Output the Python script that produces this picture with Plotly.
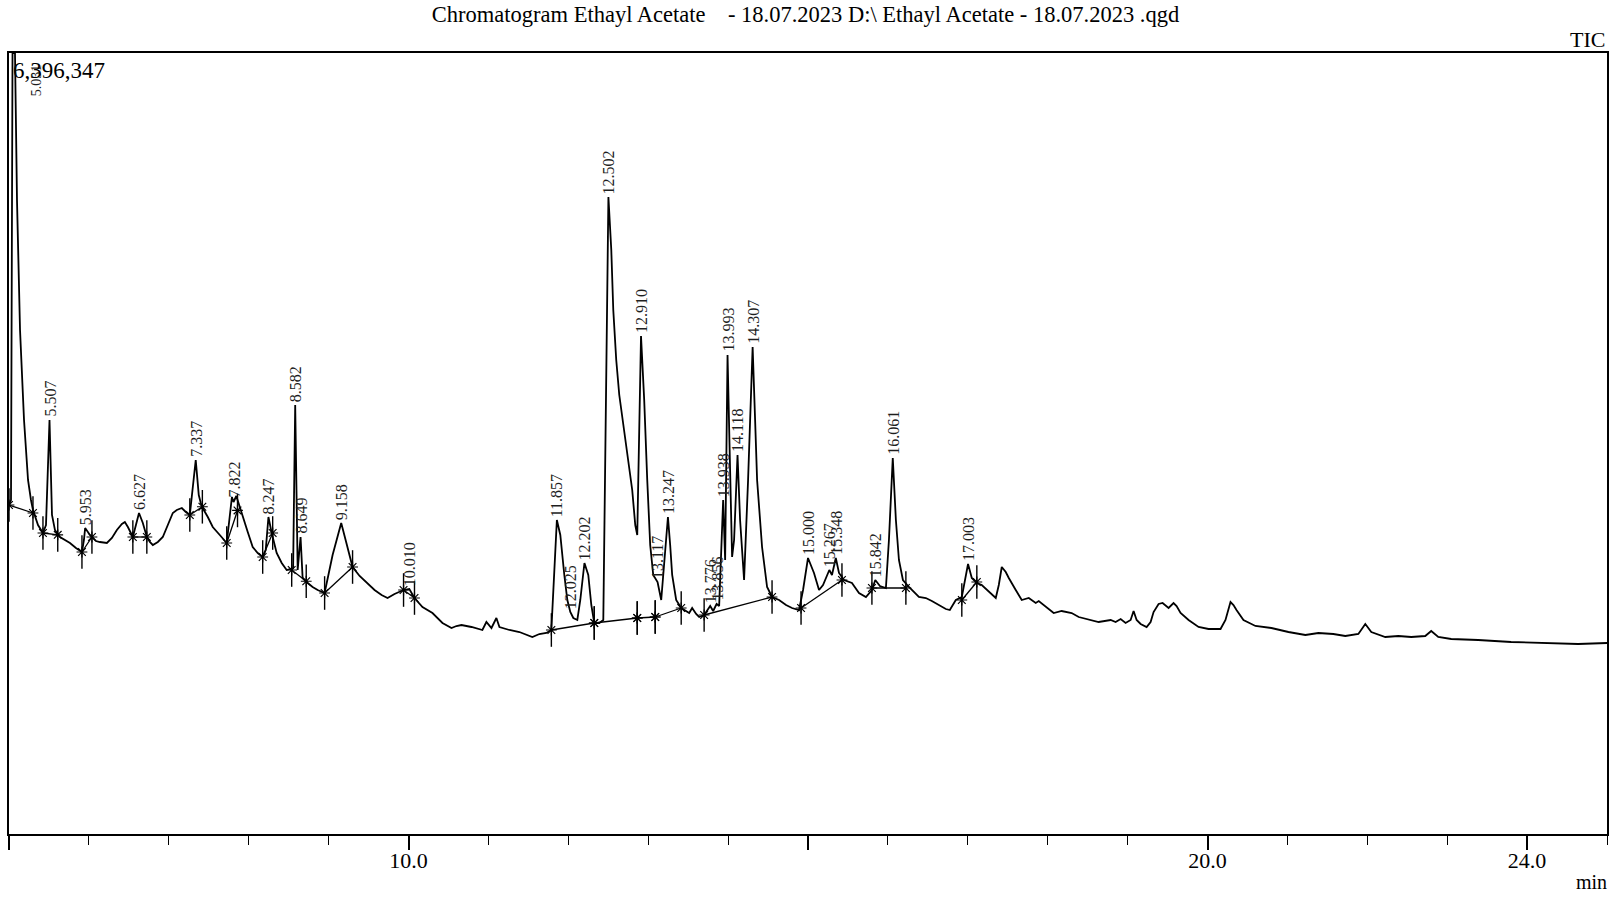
import plotly.graph_objects as go
import numpy as np

# ---------------- data ----------------
# retention time (min)
rt = [5.000, 5.025, 5.044, 5.075, 5.100, 5.138, 5.188, 5.238, 5.275, 5.300,
      5.363, 5.425, 5.463, 5.507, 5.538, 5.575, 5.638, 5.700, 5.763, 5.838,
      5.913, 5.938, 5.953, 6.013, 6.038, 6.088, 6.138, 6.225, 6.288, 6.350,
      6.413, 6.450, 6.488, 6.550, 6.627, 6.650, 6.675, 6.725, 6.763, 6.800,
      6.863, 6.925, 6.988, 7.050, 7.100, 7.163, 7.213, 7.263, 7.337, 7.375,
      7.400, 7.438, 7.488, 7.550, 7.638, 7.725, 7.790, 7.810, 7.845, 7.925,
      7.988, 8.050, 8.113, 8.175, 8.213, 8.247, 8.288, 8.350, 8.413, 8.475,
      8.556, 8.582, 8.613, 8.649, 8.675, 8.738, 8.800, 8.863, 8.950, 9.050,
      9.158, 9.213, 9.300, 9.388, 9.475, 9.575, 9.663, 9.738, 9.825, 9.888,
      9.938, 10.010, 10.075, 10.175, 10.300, 10.425, 10.538, 10.600, 10.663, 10.788,
      10.925, 10.975, 11.038, 11.100, 11.138, 11.263, 11.388, 11.550, 11.638, 11.725,
      11.788, 11.857, 11.900, 11.950, 11.988, 12.025, 12.063, 12.113, 12.150, 12.202,
      12.250, 12.288, 12.325, 12.388, 12.438, 12.502, 12.538, 12.563, 12.600, 12.638,
      12.688, 12.738, 12.800, 12.838, 12.863, 12.910, 12.950, 12.988, 13.025, 13.063,
      13.117, 13.163, 13.247, 13.275, 13.300, 13.350, 13.413, 13.513, 13.550, 13.600,
      13.638, 13.700, 13.776, 13.813, 13.856, 13.888, 13.938, 13.963, 13.993, 14.025,
      14.050, 14.075, 14.118, 14.150, 14.200, 14.250, 14.307, 14.338, 14.363, 14.425,
      14.488, 14.550, 14.638, 14.725, 14.800, 14.888, 14.938, 15.000, 15.075, 15.138,
      15.188, 15.267, 15.300, 15.348, 15.388, 15.450, 15.550, 15.638, 15.725, 15.800,
      15.842, 15.900, 15.975, 16.013, 16.061, 16.100, 16.138, 16.188, 16.263, 16.388,
      16.475, 16.550, 16.638, 16.725, 16.775, 16.850, 16.925, 16.963, 17.003, 17.050,
      17.113, 17.175, 17.263, 17.350, 17.388, 17.425, 17.475, 17.513, 17.600, 17.675,
      17.763, 17.850, 17.888, 17.975, 18.075, 18.175, 18.300, 18.388, 18.475, 18.638,
      18.788, 18.850, 18.913, 18.975, 19.038, 19.075, 19.113, 19.163, 19.238, 19.288,
      19.325, 19.388, 19.438, 19.513, 19.575, 19.613, 19.663, 19.763, 19.888, 20.013,
      20.163, 20.225, 20.288, 20.325, 20.363, 20.450, 20.600, 20.700, 20.800, 21.013,
      21.225, 21.388, 21.575, 21.725, 21.888, 21.975, 22.050, 22.225, 22.388, 22.550,
      22.725, 22.800, 22.888, 23.050, 23.388, 23.800, 24.225, 24.638, 25.000]

# TIC intensity (counts)
tic = [2694510, 2735460, 6396347, 6396347, 5192460, 4127760, 3390660, 2899260, 2735460, 2653560,
       2530710, 2465190, 2530710, 3390660, 2612610, 2489760, 2432430, 2407860, 2383290, 2342340,
       2309580, 2407860, 2506140, 2448810, 2432430, 2399670, 2391480, 2383290, 2424240, 2489760,
       2538900, 2555280, 2514330, 2432430, 2628990, 2588040, 2547090, 2432430, 2391480, 2366910,
       2391480, 2432430, 2530710, 2628990, 2653560, 2669940, 2637180, 2612610, 3063060, 2776410,
       2710890, 2653560, 2596230, 2514330, 2448810, 2383290, 2760030, 2719080, 2768220, 2596230,
       2473380, 2350530, 2301390, 2268630, 2325960, 2596230, 2465190, 2301390, 2219490, 2162160,
       2178540, 3513510, 2162160, 2432430, 2096640, 2055690, 2022930, 1998360, 1973790, 2285010,
       2547090, 2407860, 2186730, 2113020, 2055690, 1998360, 1957410, 1932840, 1965600, 1981980,
       1998360, 2006550, 1932840, 1859130, 1809990, 1728090, 1687140, 1703520, 1711710, 1695330,
       1670760, 1736280, 1687140, 1769040, 1695330, 1670760, 1654380, 1613430, 1638000, 1646190,
       1670760, 2571660, 2448810, 2121210, 1916460, 1818180, 1769040, 1752660, 1916460, 2219490,
       2121210, 1875510, 1728090, 1728090, 1752660, 5217030, 4782960, 4291560, 3882060, 3595410,
       3349710, 3104010, 2817360, 2530710, 2448810, 4078620, 3554460, 2899260, 2366910, 2121210,
       2063880, 1916460, 2596230, 2366910, 2121210, 1916460, 1850940, 1809990, 1850940, 1801800,
       1777230, 1793610, 1867320, 1826370, 1883700, 1867320, 2735460, 2244060, 3923010, 2981160,
       2268630, 2407860, 3104010, 2571660, 2080260, 2899260, 3988530, 3390660, 2899260, 2350530,
       2022930, 1941030, 1916460, 1875510, 1850940, 1834560, 1998360, 2260440, 2137590, 1998360,
       2039310, 2162160, 2121210, 2260440, 2137590, 2080260, 2055690, 1973790, 1941030, 1998360,
       2080260, 2031120, 2014740, 2407860, 3079440, 2571660, 2244060, 2080260, 2022930, 1941030,
       1932840, 1908270, 1875510, 1842750, 1834560, 1916460, 1941030, 2080260, 2211300, 2096640,
       2055690, 2039310, 1981980, 1932840, 2039310, 2186730, 2145780, 2096640, 1998360, 1916460,
       1932840, 1891890, 1908270, 1859130, 1809990, 1826370, 1809990, 1777230, 1760850, 1736280,
       1752660, 1736280, 1760850, 1728090, 1752660, 1826370, 1752660, 1719900, 1695330, 1736280,
       1818180, 1883700, 1891890, 1850940, 1891890, 1867320, 1809990, 1752660, 1695330, 1678950,
       1678950, 1752660, 1900080, 1875510, 1834560, 1752660, 1703520, 1695330, 1687140, 1654380,
       1629810, 1646190, 1638000, 1621620, 1638000, 1719900, 1654380, 1613430, 1621620, 1613430,
       1621620, 1662570, 1613430, 1597050, 1588860, 1572480, 1564290, 1556100, 1564290]

# labelled peaks (retention time, label)
peak_rt = [5.507, 5.953, 6.627, 7.337, 7.822, 8.247, 8.582, 8.649, 9.158, 10.010,
           11.857, 12.025, 12.202, 12.502, 12.910, 13.117, 13.247, 13.776, 13.856, 13.938,
           13.993, 14.118, 14.307, 15.000, 15.267, 15.348, 15.842, 16.061, 17.003]
peak_labels = ["5.507", "5.953", "6.627", "7.337", "7.822", "8.247", "8.582", "8.649", "9.158", "10.010",
               "11.857", "12.025", "12.202", "12.502", "12.910", "13.117", "13.247", "13.776", "13.856", "13.938",
               "13.993", "14.118", "14.307", "15.000", "15.267", "15.348", "15.842", "16.061", "17.003"]
first_peak_label = "5.031"
max_intensity = 6396347

# integration baselines: start / end points
bl_start_rt = [5.000, 5.425, 5.913, 6.550, 7.263, 7.725, 8.175, 8.538, 8.950, 9.938,
               11.788, 12.325, 12.863, 13.088, 13.700, 14.913, 15.800, 16.925]
bl_start_int = [2694510, 2465190, 2309580, 2432430, 2612610, 2383290, 2268630, 2162160, 1973790, 1998360,
                1670760, 1728090, 1769040, 1777230, 1793610, 1850940, 2014740, 1916460]
bl_end_rt = [5.300, 5.610, 6.038, 6.725, 7.420, 7.860, 8.300, 8.720, 9.300, 10.075,
             12.325, 12.863, 13.088, 13.413, 14.550, 15.425, 16.225, 17.113]
bl_end_int = [2628990, 2450000, 2432430, 2432430, 2680000, 2650000, 2465190, 2070000, 2186730, 1932840,
              1728090, 1769040, 1777230, 1850940, 1941030, 2080260, 2014740, 2063880]

x_tick_vals = [5, 10, 15, 20, 24]
x_tick_text = ["", "10.0", "", "20.0", "24.0"]

title_text = "Chromatogram Ethayl Acetate&nbsp;&nbsp;&nbsp;&nbsp;- 18.07.2023 D:\\ Ethayl Acetate - 18.07.2023 .qgd"

# ---------------- figure ----------------
FONT = "Liberation Serif, Times New Roman, serif"
fig = go.Figure()

fig.add_trace(go.Scatter(x=rt, y=tic, mode="lines",
                         line=dict(color="black", width=1.8), hoverinfo="x+y",
                         showlegend=False, cliponaxis=True))

# baselines
bx, by = [], []
for a, b, c, d in zip(bl_start_rt, bl_start_int, bl_end_rt, bl_end_int):
    bx += [a, c, None]
    by += [b, d, None]
fig.add_trace(go.Scatter(x=bx, y=by, mode="lines", line=dict(color="black", width=1.3),
                         showlegend=False, hoverinfo="skip"))

mx = list(bl_start_rt) + list(bl_end_rt)
my = list(bl_start_int) + list(bl_end_int)
fig.add_trace(go.Scatter(x=mx, y=my, mode="markers",
                         marker=dict(symbol="line-ns-open", size=24, color="black",
                                     line=dict(color="black", width=1.4)),
                         showlegend=False, hoverinfo="skip"))
fig.add_trace(go.Scatter(x=mx, y=my, mode="markers",
                         marker=dict(symbol="asterisk-open", size=9, color="black",
                                     line=dict(color="black", width=1.2)),
                         showlegend=False, hoverinfo="skip"))

# peak labels
peak_y = np.interp(peak_rt, rt, tic)
for t, yv, lab in zip(peak_rt, peak_y, peak_labels):
    fig.add_annotation(x=t, y=yv, text=lab, showarrow=False, textangle=-90,
                       xanchor="center", yanchor="bottom", yshift=1,
                       font=dict(family=FONT, size=16, color="#1e1e1e"))

fig.add_annotation(x=5.34, y=max_intensity, text=first_peak_label, showarrow=False,
                   textangle=-90, xanchor="center", yanchor="top", yshift=-9,
                   font=dict(family=FONT, size=14, color="#1e1e1e"))
fig.add_annotation(xref="paper", yref="paper", x=0.001, y=1, text=f"{max_intensity:,}",
                   showarrow=False, xanchor="left", yanchor="top", yshift=-3,
                   font=dict(family=FONT, size=23, color="black"))
fig.add_annotation(xref="paper", yref="paper", x=1, y=1, text="TIC", showarrow=False,
                   xanchor="right", yanchor="bottom", yshift=-1,
                   font=dict(family=FONT, size=22, color="black"))
fig.add_annotation(xref="paper", yref="paper", x=1, y=0, text="min", showarrow=False,
                   xanchor="right", yanchor="top", yshift=-35, xshift=2,
                   font=dict(family=FONT, size=20, color="black"))

fig.update_layout(
    width=1611, height=898,
    margin=dict(l=9, r=2, t=53, b=64),
    paper_bgcolor="white", plot_bgcolor="white",
    title=dict(text=title_text, x=0.5, xanchor="center", y=0.984, yanchor="middle",
               font=dict(family=FONT, size=22.5, color="black")),
    xaxis=dict(range=[5, 25], showgrid=False, zeroline=False,
               showline=True, linecolor="black", linewidth=2, mirror=True,
               tickmode="array", tickvals=x_tick_vals, ticktext=x_tick_text,
               ticks="outside", ticklen=14, tickwidth=1.6, tickcolor="black",
               ticklabelstandoff=-8,
               minor=dict(dtick=1, ticks="outside", ticklen=9, tickwidth=1.3, tickcolor="black", showgrid=False),
               tickfont=dict(family=FONT, size=22, color="black")),
    yaxis=dict(range=[0, max_intensity], showgrid=False, zeroline=False,
               showline=True, linecolor="black", linewidth=2, mirror=True,
               showticklabels=False, ticks=""),
)

fig.write_html("out.html", include_plotlyjs=True, config={"displayModeBar": False},
               post_script="document.body.style.margin='0';document.body.style.overflow='hidden';")
